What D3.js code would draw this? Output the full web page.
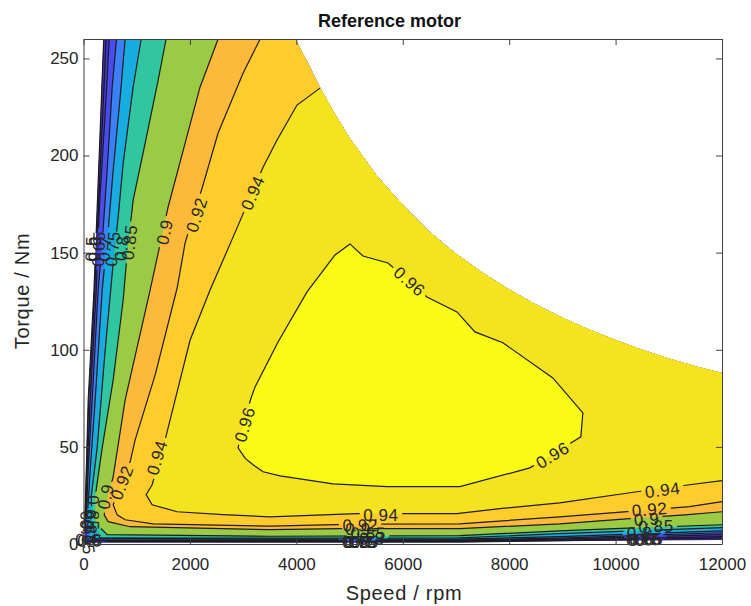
<!DOCTYPE html>
<html>
<head>
<meta charset="utf-8">
<script src="https://cdn.jsdelivr.net/npm/d3@7"></script>
<style>
  html, body { margin: 0; padding: 0; background: #fff; }
  text { font-family: "Liberation Sans", Arial, sans-serif; fill: #262626; }
</style>
</head>
<body>
<div id="chart"></div>
<script>
var svgWidth = 751;
var svgHeight = 606;

var margin = { top: 39, bottom: 62, right: 29, left: 83.5 };

var width = svgWidth - margin.left - margin.right;
var height = svgHeight - margin.top - margin.bottom;

// operating range of the map
var edgeSpeed = [375, 3980, 4200, 4450, 4700, 5000, 5500, 6000, 6500, 7000, 7500, 8000, 8500, 9000, 9500, 10000, 10500, 11000, 11500, 12000, 12000, 8950, 7070, 10, 190];
var edgeTorque = [260, 260, 248.5, 234.8, 222.6, 209, 190, 174.5, 160.8, 149.5, 139.6, 131, 123.3, 116.5, 110.5, 105, 100, 95.5, 91.5, 88, 2.1, 1.4, 0.7, 0.7, 125];

// contour lines, left end / top end first
var levels = [0.5, 0.6, 0.65, 0.7, 0.75, 0.8, 0.85, 0.9, 0.92, 0.94, 0.96];

var speed50 = [380, 197, 88, 28, 40, 3510, 7070, 8950, 12000];
var torque50 = [260, 130.8, 74, 12.5, 1.3, 1.2, 1.2, 1.7, 3];
var speed60 = [426, 210, 100, 30, 50, 3510, 7070, 8950, 12000];
var torque60 = [260, 130.8, 74.2, 12.5, 1.7, 1.4, 1.4, 2, 3.8];
var speed65 = [483, 426, 295, 239, 126, 70, 41, 70, 3510, 7070, 8950, 12000];
var torque65 = [260, 230, 172, 130.8, 74.2, 38.2, 9.9, 2, 1.7, 1.7, 2.5, 4.8];
var speed70 = [620, 539, 445, 351, 276, 163, 88, 51, 88, 3510, 7070, 8950, 12000];
var torque70 = [260, 235.2, 192.5, 155, 130.8, 74.2, 38.2, 12.5, 2.2, 2, 2, 3, 5.8];
var speed75 = [783, 689, 558, 464, 351, 220, 126, 70, 126, 3510, 7070, 8950, 12000];
var torque75 = [260, 230, 192.5, 161.7, 130.8, 74.2, 38.2, 12.5, 3, 2.5, 2.5, 3.8, 6.8];
var speed80 = [1084, 933, 746, 652, 558, 408, 257, 145, 163, 314, 3510, 7070, 8950, 12000];
var torque80 = [260, 235.2, 196.1, 168.4, 144.7, 100, 49.5, 24.3, 9.9, 3.2, 3, 3.2, 5.3, 8.4];
var speed85 = [1553, 1403, 1159, 933, 821, 746, 558, 351, 220, 220, 445, 3510, 7070, 8950, 10450, 12000];
var torque85 = [260, 238.8, 206.4, 177, 149.8, 125.6, 84.5, 49.5, 24.3, 11, 4.8, 4, 4.3, 6.8, 8.4, 9.9];
var speed90 = [2530, 2190, 1910, 1590, 1403, 1253, 783, 558, 464, 389, 464, 877, 3510, 4820, 7070, 8950, 10450, 11300, 12000];
var torque90 = [260, 235.2, 206.4, 173.5, 149.8, 130.8, 74.2, 34.6, 25.4, 15, 11.5, 8.9, 7.4, 7.9, 7.9, 10.4, 13.5, 15, 16.6];
var speed92 = [3320, 3000, 2530, 2230, 1910, 1760, 1347, 971, 877, 558, 633, 783, 1309, 3510, 5140, 7070, 8950, 10400, 11390, 12000];
var torque92 = [260, 242.5, 211.6, 183.3, 155, 131.8, 87.1, 53.6, 42.3, 20.2, 15, 12.5, 10.4, 9.2, 10.2, 10.4, 14, 17.1, 19.2, 21.8];
var speed94 = [4445, 4013, 3638, 3375, 2811, 2379, 2004, 1722, 1534, 1290, 1177, 1290, 1760, 2623, 3506, 5140, 6135, 7018, 7825, 8950, 10400, 11390, 12000];
var torque94 = [234.7, 226, 208, 194, 158, 130.8, 105, 74.2, 53.6, 30.5, 25.4, 20.2, 16.6, 15.1, 14, 15.6, 15.6, 15.6, 18.2, 21.2, 26.9, 30.5, 32.6];
var speed96 = [3150, 3224, 3656, 4201, 4727, 5008, 5252, 5722, 6455, 7018, 7356, 7882, 8821, 9385, 9347, 9197, 8390, 7074, 5703, 4690, 3694, 3375, 3187, 3040, 2905, 3000, 3150];
var torque96 = [75.3, 80.9, 104, 129.8, 148.8, 154.5, 148.3, 144.7, 127.2, 119.5, 109.2, 103.6, 85.5, 67.5, 55.2, 52.6, 39.2, 29.5, 29.5, 31, 35.1, 37.2, 40.8, 44.1, 49.5, 61.4, 75.3];

var levelSpeeds = [speed50, speed60, speed65, speed70, speed75, speed80, speed85, speed90, speed92, speed94, speed96];
var levelTorques = [torque50, torque60, torque65, torque70, torque75, torque80, torque85, torque90, torque92, torque94, torque96];

// colour below the first level, then the colour above each level
var baseColor = "#3a22a0";
var bandColors = ["#4230c4", "#4438d8", "#4a4cf0", "#3a80f8", "#18acdf", "#2fc6a0", "#9bca45", "#fdb93a", "#fecc2b", "#f5e31f", "#f9fb15"];

// inline contour labels
var labelLevels = [0.96, 0.96, 0.96, 0.94, 0.94, 0.94, 0.94, 0.92, 0.92, 0.92, 0.92, 0.9, 0.9, 0.9, 0.9,
    0.85, 0.85, 0.85, 0.85, 0.8, 0.8, 0.8, 0.8, 0.75, 0.75, 0.75, 0.75, 0.7, 0.7, 0.7, 0.7,
    0.65, 0.65, 0.65, 0.65, 0.6, 0.6, 0.6, 0.6, 0.5, 0.5, 0.5, 0.5];
var labelSpeeds = [3040, 6120, 8820, 3190, 1390, 5590, 10885, 2135, 730, 5200, 10640, 1535, 425, 5160, 10585,
    873, 178, 5350, 10760, 723, 123, 5420, 10450, 554, 85, 5190, 10530, 404, 85, 5230, 10590,
    291, 66, 5210, 10560, 216, 85, 5150, 10500, 160, 120, 5265, 10620];
var labelTorques = [61.5, 135, 45.5, 180.7, 44.4, 14.6, 27.5, 169.4, 31.5, 9.4, 17.6, 160.6, 24.3, 7.4, 12.5,
    155.3, 16, 5.3, 8.9, 152.3, 11.3, 2.6, 5.5, 152, 8.2, 1, 2.2, 152, 5.6, 0.8, 2.2,
    152, 3.6, 0.8, 2.2, 152, 2, 0.8, 2.2, 152, 1.5, 0.8, 2.2];

var xTicks = [0, 2000, 4000, 6000, 8000, 10000, 12000];
var yTicks = [0, 50, 100, 150, 200, 250];

var svg = d3.select("#chart")
    .append("svg")
    .attr("width", svgWidth)
    .attr("height", svgHeight)
    .style("display", "block");

var defs = svg.append("defs");

var chartGroup = svg.append("g")
    .attr("transform", `translate(${margin.left}, ${margin.top})`);

var xScale = d3.scaleLinear().domain([0, 12000]).range([0, width]);
var yScale = d3.scaleLinear().domain([0, 260]).range([height, 0]);

function toPoints(speeds, torques) {
    return speeds.map(function(s, i) { return [xScale(s), yScale(torques[i])]; });
}

var line = d3.line();

// Step 1: filled bands, painted from the lowest level up and cut to the operating range
// ==============================
defs.append("clipPath").attr("id", "range")
    .append("path")
    .attr("d", line(toPoints(edgeSpeed, edgeTorque)) + "Z");

var fills = chartGroup.append("g").attr("clip-path", "url(#range)");

fills.append("rect")
    .attr("width", width)
    .attr("height", height)
    .attr("fill", baseColor);

levels.forEach(function(level, i) {
    var pts = toPoints(levelSpeeds[i], levelTorques[i]);
    if (level < 0.96) {
        // open contour: close it round the top right corner
        pts.push([xScale(12000), yScale(260)]);
    }
    fills.append("path")
        .attr("d", line(pts) + "Z")
        .attr("fill", bandColors[i]);
});

// Step 2: contour lines, each one broken where its own labels sit
// ==============================
function labelAngle(level, x, y) {
    var pts = toPoints(levelSpeeds[levels.indexOf(level)], levelTorques[levels.indexOf(level)]);
    var best = Infinity, angle = 0;
    for (var k = 0; k < pts.length - 1; k++) {
        var ax = pts[k][0], ay = pts[k][1], bx = pts[k + 1][0], by = pts[k + 1][1];
        var dx = bx - ax, dy = by - ay;
        var t = Math.max(0, Math.min(1, ((x - ax) * dx + (y - ay) * dy) / (dx * dx + dy * dy || 1)));
        var dist = Math.hypot(ax + t * dx - x, ay + t * dy - y);
        if (dist < best) {
            best = dist;
            angle = Math.atan2(dy, dx) * 180 / Math.PI;
        }
    }
    if (angle > 90) angle -= 180;
    if (angle <= -90) angle += 180;
    return angle;
}

var labels = labelLevels.map(function(level, i) {
    var x = xScale(labelSpeeds[i]), y = yScale(labelTorques[i]);
    return { level: level, x: x, y: y, angle: labelAngle(level, x, y) };
});

levels.forEach(function(level, i) {
    var mask = defs.append("mask")
        .attr("id", "gap" + i)
        .attr("maskUnits", "userSpaceOnUse")
        .attr("x", -margin.left).attr("y", -margin.top)
        .attr("width", svgWidth).attr("height", svgHeight);
    mask.append("rect")
        .attr("x", -margin.left).attr("y", -margin.top)
        .attr("width", svgWidth).attr("height", svgHeight)
        .attr("fill", "#fff");
    labels.filter(function(d) { return d.level === level; }).forEach(function(d) {
        var w = String(level).length * 10.6;
        mask.append("rect")
            .attr("x", -w / 2).attr("y", -8)
            .attr("width", w).attr("height", 16)
            .attr("fill", "#000")
            .attr("transform", `translate(${d.x}, ${d.y}) rotate(${d.angle})`);
    });
    chartGroup.append("g")
        .attr("mask", `url(#gap${i})`)
        .append("path")
        .attr("d", line(toPoints(levelSpeeds[i], levelTorques[i])))
        .attr("fill", "none")
        .attr("stroke", "#1c1c1c")
        .attr("stroke-width", 1.2);
});

chartGroup.selectAll(".contourLabel")
    .data(labels)
    .enter()
    .append("text")
    .attr("class", "contourLabel")
    .attr("text-anchor", "middle")
    .attr("dominant-baseline", "central")
    .attr("font-size", "17px")
    .attr("letter-spacing", "0.6px")
    .attr("transform", d => `translate(${d.x}, ${d.y}) rotate(${d.angle})`)
    .text(d => d.level);

// Step 3: axes, ticks pointing inwards on all four sides
// ==============================
var bottomAxis = d3.axisBottom(xScale).tickValues(xTicks).tickFormat(d3.format("d")).tickSizeInner(-6).tickSizeOuter(0).tickPadding(14);
var leftAxis = d3.axisLeft(yScale).tickValues(yTicks).tickFormat(d3.format("d")).tickSizeInner(-6).tickSizeOuter(0).tickPadding(5);
var topAxis = d3.axisTop(xScale).tickValues(xTicks).tickSizeInner(-6).tickSizeOuter(0).tickFormat("");
var rightAxis = d3.axisRight(yScale).tickValues(yTicks).tickSizeInner(-6).tickSizeOuter(0).tickFormat("");

chartGroup.append("g").attr("transform", `translate(0, ${height})`).call(bottomAxis);
chartGroup.append("g").call(leftAxis);
chartGroup.append("g").call(topAxis);
chartGroup.append("g").attr("transform", `translate(${width}, 0)`).call(rightAxis);

chartGroup.selectAll(".domain, .tick line")
    .attr("stroke", "#404040")
    .attr("stroke-width", 1);

chartGroup.selectAll(".tick text")
    .attr("font-size", "17px")
    .style("font-family", '"Liberation Sans", Arial, sans-serif')
    .attr("fill", "#262626");

// Step 4: titles
// ==============================
svg.append("text")
    .attr("x", 389.5)
    .attr("y", 27)
    .attr("text-anchor", "middle")
    .attr("font-size", "18px")
    .attr("font-weight", "bold")
    .style("fill", "#111")
    .text("Reference motor");

svg.append("text")
    .attr("x", 404)
    .attr("y", 600)
    .attr("text-anchor", "middle")
    .attr("font-size", "20px")
    .attr("letter-spacing", "0.7px")
    .text("Speed / rpm");

svg.append("text")
    .attr("transform", "translate(29, 291) rotate(-90)")
    .attr("text-anchor", "middle")
    .attr("font-size", "20px")
    .attr("letter-spacing", "0.7px")
    .text("Torque / Nm");
</script>
</body>
</html>
